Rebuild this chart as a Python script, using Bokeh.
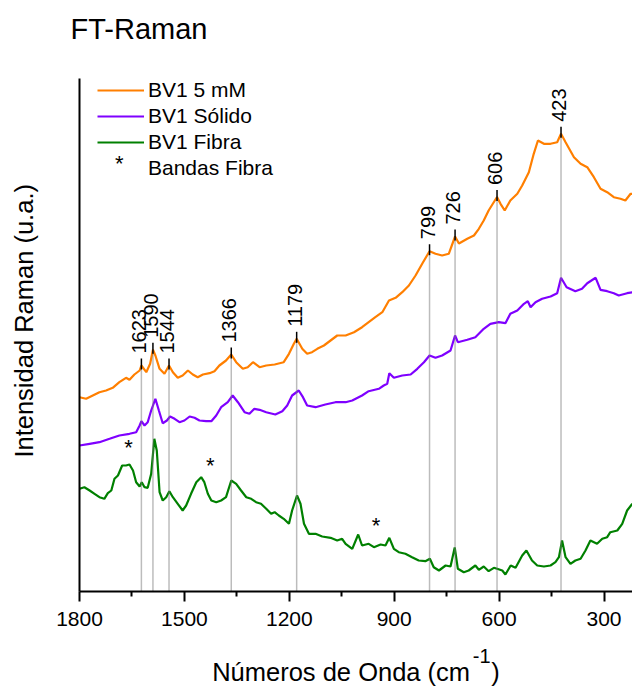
import math
from bokeh.plotting import figure
from bokeh.models import Range1d, FixedTicker, Label, Legend, LegendItem, LinearAxis, Title
from bokeh.core.properties import value
from bokeh.embed import file_html
from bokeh.resources import INLINE

FONT = "Liberation Sans"
NB = "\u00a0"

# ---------------- data (wavenumber cm-1, intensity a.u.) ----------------
wn_5mM = [1800, 1781, 1762, 1743, 1724, 1705, 1686, 1667, 1657, 1643, 1628, 1623, 1609, 1598,
          1590, 1583, 1571, 1557, 1544, 1533, 1519, 1505, 1490, 1476, 1462, 1447, 1428, 1414,
          1400, 1381, 1366, 1352, 1333, 1319, 1304, 1285, 1266, 1242, 1216, 1201, 1187, 1179,
          1163, 1149, 1135, 1120, 1101, 1082, 1063, 1039, 1015, 992, 973, 954, 934, 915, 896,
          877, 858, 839, 820, 799, 782, 763, 744, 726, 715, 691, 672, 658, 644, 630, 606, 596,
          584, 568, 548, 534, 515, 501, 489, 472, 453, 434, 423, 410, 386, 367, 348, 329, 310,
          291, 272, 253, 239, 224, 219]
int_5mM = [194.3, 192.7, 196, 199.3, 201, 203.7, 209.3, 213.7, 211.7, 217, 221, 226, 219.3, 227.7,
           241.7, 236, 222.7, 217.7, 226, 219.3, 213.7, 216, 221, 217, 214.3, 217, 218.3, 220.3,
           226, 231, 237, 229.3, 222.7, 224.3, 229.3, 224.3, 226, 227, 229.3, 237.7, 247.7, 252.7,
           242.7, 237.7, 239.3, 242.7, 246, 251, 256, 256, 259.3, 264.3, 269.3, 274.3, 279.3, 291, 293.7,
           299.3, 306, 316, 327.7, 340.3, 337.7, 336, 337.7, 355, 348, 352.7, 356, 362.7, 371, 381, 394.5, 387.7,
           381, 391, 397.7, 406, 419.3, 437.7, 451, 447.7, 447.7, 449.3, 457.7, 449.3, 434.3, 427.7, 424.3, 414.3, 402.7,
           399.3, 394.3, 392.7, 391, 397.7, 397.7]

wn_solido = [1800, 1771, 1743, 1714, 1686, 1657, 1638, 1628, 1623, 1614, 1605, 1595, 1583, 1573,
             1562, 1550, 1541, 1528, 1514, 1500, 1485, 1471, 1457, 1438, 1423, 1409, 1395, 1376,
             1362, 1347, 1328, 1314, 1300, 1285, 1266, 1240, 1220, 1206, 1192, 1173, 1161, 1149,
             1125, 1097, 1068, 1039, 1020, 992, 973, 944, 930, 920, 914, 901, 877, 853, 834, 815,
             799, 782, 763, 739, 726, 718, 691, 668, 644, 625, 601, 582, 568, 548, 529, 518, 510,
             496, 477, 453, 434, 423, 407, 382, 363, 348, 324, 310, 291, 272, 258, 234, 219]
int_solido = [146, 147.7, 149.3, 152.7, 156, 157.7, 159.3, 166, 170.3, 166, 169.3, 181, 192.7, 181,
              168.3, 171, 175, 172.7, 169.3, 171, 175, 173.7, 171, 170.3, 170.3, 176, 184.3, 189.3,
              196, 189.3, 179.3, 177.7, 182.7, 181.7, 179.3, 177, 180.3, 186, 196, 201, 194.3, 186,
              184.3, 187, 189.3, 189.3, 191, 196, 200.3, 202.7, 206, 207.7, 218.3, 213.7, 216, 217, 222.7, 229.3,
              236, 233.7, 236, 241, 256, 249.3, 251.7, 254.3, 262.7, 267.7, 269.3, 268.3, 277.7, 281, 287.7, 290.3, 284.3,
              289.3, 292.7, 295, 298.3, 313.7, 304.3, 300.3, 302.7, 308.3, 313.7, 301.7, 300.3, 298.3, 296, 298.3, 299.3]

wn_fibra = [1800, 1786, 1771, 1757, 1743, 1729, 1719, 1709, 1700, 1690, 1678, 1667, 1657, 1647,
            1638, 1628, 1622, 1614, 1605, 1595, 1586, 1579, 1571, 1562, 1552, 1543, 1533, 1519,
            1505, 1495, 1481, 1466, 1452, 1443, 1433, 1423, 1409, 1395, 1381, 1366, 1352, 1338,
            1323, 1309, 1295, 1281, 1266, 1252, 1242, 1230, 1216, 1201, 1192, 1178, 1168, 1158,
            1144, 1125, 1106, 1082, 1063, 1049, 1039, 1020, 1003, 992, 973, 958, 939, 925, 914,
            901, 887, 868, 849, 830, 811, 798, 787, 772, 753, 739, 727, 718, 701, 687, 668, 658,
            644, 630, 615, 606, 591, 582, 567, 553, 534, 522, 506, 491, 472, 453, 439, 429, 420,
            410, 396, 382, 367, 353, 339, 320, 305, 291, 282, 262, 248, 234, 219]
int_fibra = [102.7, 104.3, 101, 97.7, 94.3, 92.7, 98.3, 101, 112.7, 116, 126, 126, 127, 121,
             109.3, 105, 109.3, 104.3, 103.7, 117.7, 152.7, 141, 99.3, 91, 94.3, 100.3, 94.3, 87.7,
             81, 86, 97.7, 109.3, 114.3, 109.3, 97.7, 91, 89.3, 91, 94.3, 111, 107.7, 101,
             94.3, 92.7, 89.3, 87.7, 82.7, 77.7, 79.3, 76, 72.7, 67.7, 81, 96, 87.7, 67.7,
             57.7, 57.7, 55, 53.7, 51, 52.7, 47.7, 42.7, 57, 46, 47.7, 44.3, 47, 46, 53.7,
             42.7, 39.3, 37.7, 34.3, 31, 30.3, 32.7, 24.3, 21, 26, 25, 44, 22.7, 19.3, 21, 26, 21.7,
             25, 20.3, 23.7, 22.7, 21, 17, 26, 23.7, 36, 41, 31, 26, 25, 26, 29.3, 34.3, 51,
             34.3, 27.7, 31, 32.7, 41, 51, 47.7, 52.7, 54.3, 59.3, 61, 67.7, 81, 87.7]

peak_wn = [1623, 1590, 1544, 1366, 1179, 799, 726, 606, 423]
peak_int = [226, 241.7, 226, 237, 252.7, 340.3, 355, 394.5, 457.7]
peak_labels = ["1623", "1590", "1544", "1366", "1179", "799", "726", "606", "423"]

star_wn = [1660, 1426, 952]
star_int = [145, 127, 67]

x_ticks = [1800, 1500, 1200, 900, 600, 300]
x_minor = [1650, 1350, 1050, 750, 450]
x_unit_pos = 650          # where the superscript of the unit sits

series_names = ["BV1 5 mM", "BV1 Sólido", "BV1 Fibra"]
series_colors = ["#ff7f00", "#7f00ff", "#008000"]

# ---------------- figure ----------------
p = figure(width=632, height=690, x_range=Range1d(1800, 218.6), y_range=Range1d(0, 513),
           output_backend="svg", toolbar_location=None,
           min_border_left=79, min_border_right=0, min_border_top=78, min_border_bottom=99)
p.grid.visible = False
p.outline_line_color = None
p.background_fill_color = "white"
p.border_fill_color = "white"

xa = p.xaxis[0]
xa.ticker = FixedTicker(ticks=x_ticks, minor_ticks=x_minor)
xa.axis_line_width = 2
xa.axis_line_color = "black"
xa.major_tick_line_width = 2
xa.minor_tick_line_width = 2
xa.major_tick_line_color = "black"
xa.minor_tick_line_color = "black"
xa.major_tick_out = 10
xa.major_tick_in = 0
xa.minor_tick_out = 5
xa.minor_tick_in = 0
xa.major_label_text_font = FONT
xa.major_label_text_font_size = "21px"
xa.major_label_text_color = "black"
xa.major_label_standoff = 10

# second (label-only) axis below: unit superscript as tick label + the axis title
xa2 = LinearAxis(ticker=FixedTicker(ticks=[x_unit_pos], minor_ticks=[]),
                 major_label_overrides={x_unit_pos: "-1"},
                 axis_line_color=None, major_tick_line_color=None, minor_tick_line_color=None,
                 major_tick_out=0, major_tick_in=0, minor_tick_out=0, minor_tick_in=0,
                 major_label_standoff=20, major_label_text_font=FONT,
                 major_label_text_font_size="20px", major_label_text_color="black",
                 axis_label="Números de Onda (cm" + NB * 3 + ")",
                 axis_label_standoff=-8, axis_label_text_font=FONT,
                 axis_label_text_font_size="25.5px", axis_label_text_font_style="normal",
                 axis_label_text_color="black")
p.add_layout(xa2, "below")

ya = p.yaxis[0]
ya.ticker = FixedTicker(ticks=[])
ya.axis_line_width = 2
ya.axis_line_color = "black"
ya.major_tick_out = 0
ya.major_tick_in = 0
ya.minor_tick_out = 0
ya.minor_tick_in = 0
ya.major_label_standoff = 0
ya.major_label_text_font_size = "0px"
ya.axis_label = NB * 4 + "Intensidad Raman (u.a.)"
ya.axis_label_standoff = 42
ya.axis_label_text_font = FONT
ya.axis_label_text_font_size = "25.5px"
ya.axis_label_text_font_style = "normal"
ya.axis_label_text_color = "black"

# title (a small spacer title keeps it at the right height above the frame)
p.add_layout(Title(text=NB, text_font_size="10px", standoff=21), "above")
p.add_layout(Title(text="FT-Raman", align="left", offset=-9, standoff=0,
                   text_font=FONT, text_font_size="29px", text_font_style="normal",
                   text_color="black"), "above")

# spectra
r1 = p.line(wn_5mM, int_5mM, line_color=series_colors[0], line_width=2.2)
r2 = p.line(wn_solido, int_solido, line_color=series_colors[1], line_width=2.2)
r3 = p.line(wn_fibra, int_fibra, line_color=series_colors[2], line_width=2.2)

# dotted guide lines from axis to the peaks
p.segment(x0=peak_wn, y0=[0] * len(peak_wn), x1=peak_wn, y1=peak_int,
          line_color="#7a7a7a", line_width=1.5, line_dash="1 1")
# small black markers at the peaks
p.segment(x0=peak_wn, y0=[v - 4 for v in peak_int], x1=peak_wn, y1=[v + 7 for v in peak_int],
          line_color="black", line_width=1.5)
# peak labels
p.text(x=peak_wn, y=peak_int, text=peak_labels, angle=math.pi / 2,
       text_align="left", text_baseline="middle", x_offset=-2, y_offset=-12,
       text_font=value(FONT), text_font_size=value("20px"), text_color="black")

# fibre bands
rs = p.text(x=star_wn, y=star_int, text=["*"] * len(star_wn), text_align="center",
            text_baseline="alphabetic", y_offset=1,
            text_font=value(FONT), text_font_size=value("22px"), text_color="black")

legend = Legend(items=[LegendItem(label=series_names[0], renderers=[r1]),
                       LegendItem(label=series_names[1], renderers=[r2]),
                       LegendItem(label=series_names[2], renderers=[r3]),
                       LegendItem(label="Bandas Fibra", renderers=[rs])],
                location=(18, 410), glyph_width=47, glyph_height=26, label_height=26,
                spacing=0, padding=0, margin=0, label_standoff=4,
                label_text_font=FONT, label_text_font_size="21px", label_text_color="black",
                border_line_color=None, background_fill_alpha=0)
p.add_layout(legend)

p.add_layout(Label(x=39.7, y=428, x_units="screen", y_units="screen", text="*",
                   text_align="center", text_baseline="alphabetic",
                   text_font=FONT, text_font_size="22px", text_color="black"))

open("out.html", "w").write(file_html(p, INLINE))
